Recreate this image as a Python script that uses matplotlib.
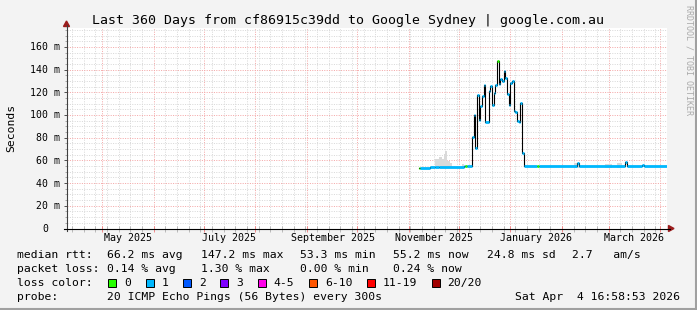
import matplotlib
matplotlib.use('Agg')
import matplotlib.pyplot as plt
import matplotlib.dates as mdates
import matplotlib.ticker as mticker
import matplotlib.transforms as mtrans
from matplotlib.patches import Rectangle, Polygon
from matplotlib.lines import Line2D
from datetime import datetime, timedelta

plt.rcParams['font.family'] = ['DejaVu Sans Mono', 'DejaVu Sans']

W, H = 697, 310

title = 'Last 360 Days from cf86915c39dd to Google Sydney | google.com.au'
t_end = datetime(2026, 4, 4, 16, 58, 53)
t_start = t_end - timedelta(days=360)

# median rtt in ms, each value holds from its date to the next one
median_dates = ['2025-11-07', '2025-11-08', '2025-11-14', '2025-11-17', '2025-11-19',
                '2025-12-04', '2025-12-05', '2025-12-06',
                '2025-12-09', '2025-12-10', '2025-12-11', '2025-12-12', '2025-12-13',
                '2025-12-14', '2025-12-15', '2025-12-16', '2025-12-17', '2025-12-19',
                '2025-12-20', '2025-12-21', '2025-12-22', '2025-12-23', '2025-12-24',
                '2025-12-25', '2025-12-26', '2025-12-27', '2025-12-28', '2025-12-29',
                '2025-12-30', '2025-12-31', '2026-01-01', '2026-01-02', '2026-01-03',
                '2026-01-04', '2026-01-05', '2026-01-06', '2026-01-07', '2026-01-08',
                '2026-01-09', '2026-01-17', '2026-01-18', '2026-02-10', '2026-02-11',
                '2026-03-11', '2026-03-12', '2026-03-21', '2026-03-22']
median_ms = [53.3, 53.6, 54.5, 53.8, 54.4,
             55.3, 55.0, 55.4,
             81.0, 100.0, 70.6, 117.8, 95.7,
             108.0, 116.4, 126.7, 94.2, 120.8,
             125.8, 109.0, 119.3, 126.7, 147.2,
             127.3, 132.0, 129.7, 138.5, 132.6,
             118.4, 108.4, 128.0, 130.0, 103.7,
             103.0, 94.8, 94.2, 110.5, 66.7,
             55.2, 55.3, 55.2, 57.4, 55.3,
             58.6, 55.3, 56.2, 55.2]
# lost pings (index into loss legend)
median_loss = [0, 1, 1, 1, 1,
               1, 0, 1,
               1, 1, 1, 1, 1,
               1, 1, 1, 1, 1,
               1, 1, 1, 1, 0,
               1, 1, 1, 1, 1,
               1, 1, 1, 1, 1,
               1, 1, 1, 1, 1,
               1, 0, 1, 1, 1,
               1, 1, 1, 1]

# smoke (spread of the pings)
smoke_start = ['2025-11-17', '2025-11-19', '2025-11-21', '2025-11-22', '2025-11-23',
               '2025-11-24', '2025-11-26', '2025-12-03', '2026-02-08', '2026-02-27',
               '2026-03-06']
smoke_end = ['2025-11-19', '2025-11-21', '2025-11-22', '2025-11-23', '2025-11-24',
             '2025-11-26', '2025-11-27', '2025-12-04', '2026-02-12', '2026-03-03',
             '2026-03-09']
smoke_top = [61.0, 62.7, 61.5, 66.0, 68.5, 59.5, 58.0, 57.0, 57.6, 57.0, 57.4]

y_ticks = [0, 20, 40, 60, 80, 100, 120, 140, 160]
y_tick_labels = ['0', '20 m', '40 m', '60 m', '80 m', '100 m', '120 m', '140 m', '160 m']
x_label_months = ['2025-05-01', '2025-07-01', '2025-09-01', '2025-11-01', '2026-01-01', '2026-03-01']
x_labels = ['May 2025', 'July 2025', 'September 2025', 'November 2025', 'January 2026', 'March 2026']

loss_labels = ['0', '1', '2', '3', '4-5', '6-10', '11-19', '20/20']
loss_colors = ['#26ff00', '#00b8ff', '#0059ff', '#7e00ff', '#ff00ea', '#ff5500', '#ff0000', '#a10000']

rtt_stats = ['66.2 ms avg', '147.2 ms max', '53.3 ms min', '55.2 ms now', '24.8 ms sd', '2.7   am/s']
loss_stats = ['0.14 % avg', '1.30 % max', '0.00 % min', '0.24 % now']
probe_text = '20 ICMP Echo Pings (56 Bytes) every 300s'
stamp = 'Sat Apr  4 16:58:53 2026'


def fx(x):
    return x / W


def fy(y):
    return 1 - y / H


def d(s):
    return datetime.strptime(s, '%Y-%m-%d')


fig = plt.figure(figsize=(W / 100, H / 100), dpi=100, facecolor='#f3f3f3')
ax = fig.add_axes([fx(66.5), fy(228.5), 600 / W, 200.5 / H])
ax.set_facecolor('white')
ax.set_xlim(t_start, t_end)
ax.set_ylim(0, max(median_ms) * 1.2)

# grid, dotted like rrdtool
ax.xaxis.set_major_locator(mdates.MonthLocator())
ax.xaxis.set_minor_locator(mdates.WeekdayLocator(byweekday=mdates.SU))
ax.yaxis.set_major_locator(mticker.MultipleLocator(20))
ax.yaxis.set_minor_locator(mticker.MultipleLocator(5))
ax.grid(which='minor', color='#d9d9d9', lw=0.72, ls=(0, (1, 1.4)))
ax.grid(which='major', color='#f4a8a8', lw=0.72, ls=(0, (1, 1.4)))
ax.set_axisbelow(True)
ax.tick_params(labelbottom=False, labelleft=False)
ax.tick_params(axis='x', which='major', direction='inout', length=4, width=0.72, color='#f08c8c')
ax.tick_params(axis='x', which='minor', direction='inout', length=4, width=0.72, color='#bbbbbb')
ax.tick_params(axis='y', which='major', direction='out', length=2.5, width=0.72, color='#555555')
ax.tick_params(axis='y', which='minor', direction='out', length=1.5, width=0.72, color='#aaaaaa')
for s in ax.spines.values():
    s.set_visible(False)

# smoke
for s0, s1, top in zip(smoke_start, smoke_end, smoke_top):
    ax.fill_between([d(s0), d(s1)], 53.5, top, color='#dadada', lw=0, zorder=2)

# median line
edges = [d(s) for s in median_dates] + [t_end]
vals = median_ms + [median_ms[-1]]
ax.step(edges, vals, where='post', color='black', lw=0.8, zorder=3)
for i in range(len(median_ms)):
    ax.plot([edges[i], edges[i + 1]], [median_ms[i], median_ms[i]],
            color=loss_colors[median_loss[i]], lw=2.0, solid_capstyle='butt', zorder=4)

# axes lines and arrows
fig.add_artist(Line2D([fx(66.5), fx(66.5)], [fy(231), fy(25)], color='#404040', lw=0.8))
fig.add_artist(Line2D([fx(63.5), fx(670)], [fy(228.5), fy(228.5)], color='black', lw=0.8))
fig.add_artist(Polygon([(fx(63.5), fy(26.5)), (fx(69.5), fy(26.5)), (fx(66.5), fy(21))],
                       closed=True, color='#9b1c1c', transform=fig.transFigure))
fig.add_artist(Polygon([(fx(668.5), fy(225.5)), (fx(668.5), fy(231.5)), (fx(674), fy(228.5))],
                       closed=True, color='#9b1c1c', transform=fig.transFigure))

# tick labels
ytrans = mtrans.blended_transform_factory(fig.transFigure, ax.transData) + \
    mtrans.ScaledTranslation(0, -3.5 / 100, fig.dpi_scale_trans)
for v, lbl in zip(y_ticks, y_tick_labels):
    xr = 60 if lbl.endswith('m') else 60 - 2 * 5.87
    ax.text(fx(xr), v, lbl, transform=ytrans, ha='right', va='baseline', fontsize=7.1)

xtrans = mtrans.blended_transform_factory(ax.transData, fig.transFigure)
for m, lbl in zip(x_label_months, x_labels):
    ax.text(d(m) + timedelta(days=15.5), fy(241), lbl, transform=xtrans,
            ha='center', va='baseline', fontsize=7.2, clip_on=False)

# title and labels
fig.text(fx(348.5), fy(24), title, ha='center', va='baseline', fontsize=9.5)
fig.text(fx(11), fy(128), 'Seconds', rotation=90, ha='center', va='center', fontsize=8.2)
fig.text(fx(688.5), fy(5), 'RRDTOOL / TOBI OETIKER', rotation=270, ha='center', va='top',
         fontsize=6, color='#aaaaaa')

# legend
fs = 8.2
cols = [107.3, 200.7, 300, 393.3, 486.7, 572.3]
fig.text(fx(17), fy(258.3), 'median rtt:', fontsize=fs)
for x, t in zip(cols, rtt_stats):
    fig.text(fx(x), fy(258.3), t, fontsize=fs)
fig.text(fx(17), fy(272), 'packet loss:', fontsize=fs)
for x, t in zip(cols, loss_stats):
    fig.text(fx(x), fy(272), t, fontsize=fs)
fig.text(fx(17), fy(286), 'loss color:', fontsize=fs)
bx = 108.3
for lbl, c in zip(loss_labels, loss_colors):
    fig.add_artist(Rectangle((fx(bx), fy(286.5)), 8 / W, 8 / H, facecolor=c,
                             edgecolor='black', lw=0.7, transform=fig.transFigure))
    fig.text(fx(bx + 16), fy(286), lbl, fontsize=fs)
    bx = bx + 16 + len(lbl) * 6.86 + 14.5
fig.text(fx(17), fy(300), 'probe:', fontsize=fs)
fig.text(fx(107.3), fy(300), probe_text, fontsize=fs)
fig.text(fx(680), fy(300), stamp, fontsize=fs, ha='right')

# frame shading
fig.add_artist(Line2D([fx(696), fx(696)], [0, 1], color='#a0a0a0', lw=1.5))
fig.add_artist(Line2D([0, 1], [fy(309), fy(309)], color='#a0a0a0', lw=1.5))

fig.savefig('out.png', dpi=100, facecolor=fig.get_facecolor())
